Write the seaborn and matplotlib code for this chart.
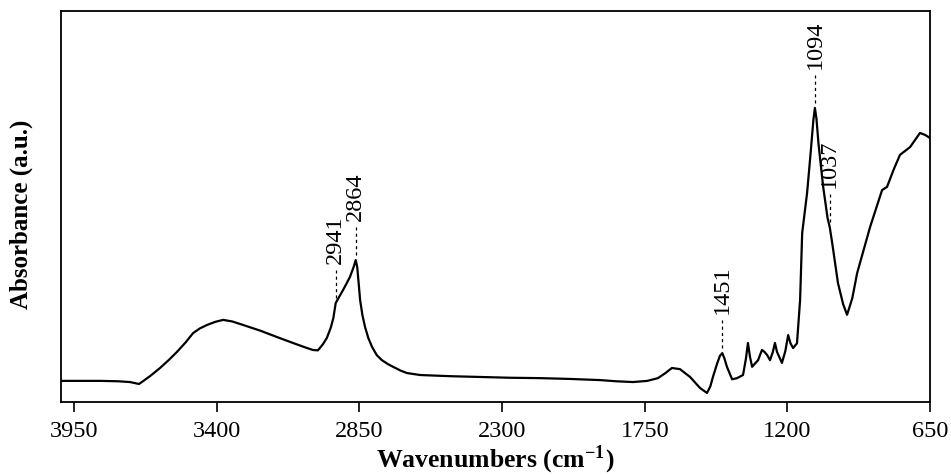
import matplotlib
matplotlib.use("Agg")
import matplotlib.pyplot as plt
import seaborn as sns
import pandas as pd

# FTIR spectrum (wavenumber in cm-1, absorbance in arbitrary units)
wavenumber = [4000, 3900, 3850, 3780, 3734, 3699, 3680, 3657, 3618, 3585, 3553, 3520, 3491,
              3465, 3437, 3405, 3375, 3340, 3298, 3230, 3167, 3106, 3060, 3029, 3010, 3002,
              2990, 2975, 2960, 2950, 2941, 2925, 2913, 2900, 2886, 2872, 2864, 2858, 2852,
              2847, 2838, 2828, 2815, 2801, 2783, 2763, 2740, 2720, 2690, 2666, 2616, 2500,
              2385, 2270, 2153, 2040, 1922, 1860, 1795, 1740, 1699, 1670, 1645, 1614, 1575,
              1537, 1510, 1497, 1487, 1470, 1460, 1451, 1443, 1433, 1413, 1394, 1371, 1360,
              1352, 1344, 1336, 1313, 1298, 1288, 1278, 1267, 1256, 1248, 1240, 1221, 1208,
              1197, 1188, 1178, 1163, 1151, 1143, 1124, 1110, 1100, 1094, 1088, 1080, 1062,
              1045, 1037, 1028, 1005, 985, 970, 950, 931, 881, 835, 816, 790, 766, 727, 689,
              669, 650]
absorbance = [0.054, 0.054, 0.054, 0.053, 0.051, 0.046, 0.055, 0.066, 0.087, 0.107, 0.128,
              0.152, 0.176, 0.188, 0.197, 0.205, 0.210, 0.206, 0.197, 0.182, 0.166, 0.151,
              0.140, 0.133, 0.132, 0.138, 0.148, 0.164, 0.190, 0.215, 0.253, 0.272, 0.286,
              0.302, 0.320, 0.345, 0.363, 0.345, 0.300, 0.261, 0.222, 0.192, 0.163, 0.141,
              0.120, 0.107, 0.097, 0.090, 0.080, 0.074, 0.069, 0.066, 0.064, 0.062, 0.061,
              0.059, 0.056, 0.053, 0.051, 0.054, 0.061, 0.074, 0.087, 0.084, 0.064, 0.036,
              0.023, 0.040, 0.064, 0.100, 0.118, 0.125, 0.112, 0.090, 0.058, 0.061, 0.069,
              0.110, 0.151, 0.115, 0.090, 0.107, 0.133, 0.128, 0.120, 0.107, 0.128, 0.151,
              0.128, 0.100, 0.130, 0.171, 0.150, 0.138, 0.150, 0.261, 0.432, 0.535, 0.640,
              0.720, 0.752, 0.725, 0.660, 0.550, 0.470, 0.448, 0.410, 0.304, 0.250, 0.223,
              0.265, 0.330, 0.448, 0.542, 0.550, 0.595, 0.632, 0.652, 0.688, 0.683, 0.675]

# Annotated bands
band_labels = ["2941", "2864", "1451", "1094", "1037"]
band_positions = [2941, 2864, 1451, 1094, 1037]
band_heights = [0.253, 0.363, 0.125, 0.752, 0.448]

x_ticks = [3950, 3400, 2850, 2300, 1750, 1200, 650]

sns.set_theme(style="ticks")
plt.rcParams["font.family"] = ["Liberation Serif", "DejaVu Serif"]
plt.rcParams["mathtext.fontset"] = "stix"
plt.rcParams["text.color"] = "black"
plt.rcParams["axes.labelcolor"] = "black"
plt.rcParams["xtick.color"] = "black"

fig = plt.figure(figsize=(9.51, 4.75), dpi=100)
ax = fig.add_axes([0.0641, 0.1537, 0.9139, 0.8232])

df = pd.DataFrame({"Wavenumber": wavenumber, "Absorbance": absorbance})
sns.lineplot(data=df, x="Wavenumber", y="Absorbance", sort=False, estimator=None,
             color="black", linewidth=1.6, ax=ax)

for lab, pos, h in zip(band_labels, band_positions, band_heights):
    ax.plot([pos, pos], [h + 0.012, h + 0.085], color="black", linestyle=(0, (2.5, 2.5)),
            linewidth=0.9)
    ax.text(pos, h + 0.1, lab, rotation=90, ha="center", va="bottom", fontsize=17.5)

ax.set_xlim(4000, 650)
ax.set_ylim(0, 1)
ax.set_xticks(x_ticks)
ax.set_xticklabels([str(t) for t in x_ticks], fontsize=17.5)
ax.set_yticks([])
ax.tick_params(axis="x", direction="out", length=7, width=1.2, color="black", pad=7)
for side in ["top", "right", "left", "bottom"]:
    ax.spines[side].set_visible(True)
    ax.spines[side].set_color("black")
    ax.spines[side].set_linewidth(1.3)

ax.set_xlabel(r"Wavenumbers (cm$^{\mathregular{-1}}$)", fontsize=18.5, fontweight="bold", labelpad=1)
ax.set_ylabel("Absorbance (a.u.)", fontsize=18, fontweight="bold")
ax.yaxis.set_label_coords(-0.032, 0.48)

fig.savefig("out.png", dpi=100, facecolor="white")
